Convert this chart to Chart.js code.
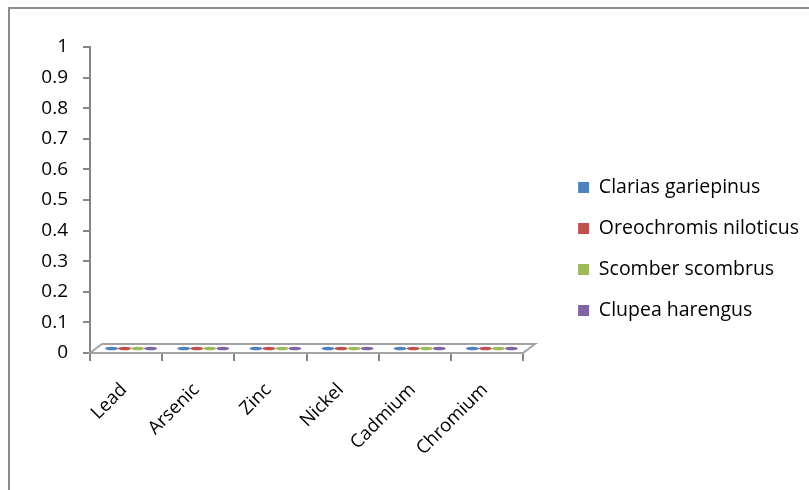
<!DOCTYPE html>
<html>
<head>
<meta charset="utf-8">
<script src="https://cdn.jsdelivr.net/npm/chart.js@4.4.1/dist/chart.umd.min.js"></script>
<style>
  html, body { margin: 0; padding: 0; background: #fff; overflow: hidden; }
  #wrap { position: relative; width: 809px; height: 490px; }
  #frame { position: absolute; left: 8px; top: 7px; width: 900px; height: 600px;
           border: 2px solid #8c8c8c; box-sizing: border-box; }
  #c { position: absolute; left: 0; top: 0; }
</style>
</head>
<body>
<div id="wrap">
  <div id="frame"></div>
  <canvas id="c" width="809" height="490"></canvas>
</div>
<script>
// Heavy metal levels per fish species
const metals = ['Lead', 'Arsenic', 'Zinc', 'Nickel', 'Cadmium', 'Chromium'];
const clariasGariepinus    = [0, 0, 0, 0, 0, 0];
const oreochromisNiloticus = [0, 0, 0, 0, 0, 0];
const scomberScombrus      = [0, 0, 0, 0, 0, 0];
const clupeaHarengus       = [0, 0, 0, 0, 0, 0];
const yTickLabels = ['0', '0.1', '0.2', '0.3', '0.4', '0.5', '0.6', '0.7', '0.8', '0.9', '1'];

const FONT = 'Open Sans';
const AXIS_GREY = '#868686';
const DEPTH_X = 12, DEPTH_Y = 9;   // oblique depth of the 3-D floor
const PLOT_RIGHT = 523;

// legend sizing: keep the swatches in a fixed column
const legendFont = { family: FONT, size: 19.5 };
const legendPad = 21.5, legendBox = 11;
const names = ['Clarias gariepinus', 'Oreochromis niloticus', 'Scomber scombrus', 'Clupea harengus'];
const legendLeft = 580 - legendPad;
const mctx = document.createElement('canvas').getContext('2d');
mctx.font = legendFont.size + 'px "' + FONT + '"';
const widest = Math.max(...names.map(n => mctx.measureText(n).width));
const legendNatural = legendPad + legendBox + legendFont.size / 2 + widest + 10;
const padRight = Math.max(0, 809 - legendLeft - legendNatural);

// 3-D floor drawn under the bars
const floorPlugin = {
  id: 'floor',
  beforeDatasetsDraw(chart) {
    const { ctx } = chart;
    const xs = chart.scales.x, ys = chart.scales.y;
    const L = xs.left, R = xs.right, B = ys.getPixelForValue(0);
    ctx.save();
    ctx.beginPath();
    ctx.moveTo(L, B);
    ctx.lineTo(R, B);
    ctx.lineTo(R + DEPTH_X, B - DEPTH_Y);
    ctx.lineTo(L + DEPTH_X, B - DEPTH_Y);
    ctx.closePath();
    ctx.fillStyle = '#ffffff';
    ctx.fill();
    ctx.lineWidth = 2;
    ctx.strokeStyle = '#a3a3a3';
    ctx.stroke();
    ctx.restore();
  }
};

// top faces of the 3-D columns
const columnTopPlugin = {
  id: 'columnTops',
  afterDatasetsDraw(chart) {
    const { ctx } = chart;
    ctx.save();
    chart.data.datasets.forEach((ds, i) => {
      const meta = chart.getDatasetMeta(i);
      if (meta.hidden) return;
      meta.data.forEach(bar => {
        ctx.beginPath();
        ctx.ellipse(bar.x + DEPTH_X / 2 - 1, bar.y - DEPTH_Y / 2, bar.width / 2, 1.7, 0, 0, Math.PI * 2);
        ctx.fillStyle = ds.backgroundColor;
        ctx.fill();
      });
    });
    ctx.restore();
  }
};

const mk = (label, data, color) => ({
  label, data, backgroundColor: color, borderColor: color, borderWidth: 0,
  categoryPercentage: 0.72, barPercentage: 1.0
});

new Chart(document.getElementById('c'), {
  type: 'bar',
  data: {
    labels: metals,
    datasets: [
      mk(names[0], clariasGariepinus, '#4F81BD'),
      mk(names[1], oreochromisNiloticus, '#C0504D'),
      mk(names[2], scomberScombrus, '#9BBB59'),
      mk(names[3], clupeaHarengus, '#8064A2')
    ]
  },
  options: {
    responsive: false,
    animation: false,
    devicePixelRatio: 1,
    layout: { padding: { top: 8, left: 0, right: padRight, bottom: 0 } },
    plugins: {
      tooltip: { enabled: false },
      legend: {
        position: 'right',
        maxWidth: 400,
        labels: {
          font: legendFont, color: '#000', boxWidth: legendBox, boxHeight: legendBox,
          padding: legendPad
        }
      }
    },
    scales: {
      x: {
        grid: { display: true, drawOnChartArea: false, drawTicks: true, tickLength: 8,
                color: AXIS_GREY, lineWidth: 2, offset: true },
        border: { display: false },
        ticks: { font: { family: FONT, size: 18.5 }, color: '#000', minRotation: 45, maxRotation: 45,
                 autoSkip: false, padding: 18, labelOffset: -2 },
        afterFit(s) { s.height = 137; }
      },
      y: {
        min: 0, max: 1,
        grid: { display: true, drawOnChartArea: false, drawTicks: true, tickLength: 7,
                color: AXIS_GREY, lineWidth: 2 },
        border: { display: true, color: AXIS_GREY, width: 2 },
        ticks: { stepSize: 0.1, font: { family: FONT, size: 19 }, color: '#000', padding: 15,
                 callback: (v, i) => yTickLabels[i] },
        afterFit(s) { s.width = 90; s.paddingTop = 47; }
      },
      gap: {
        type: 'linear', position: 'right', display: true,
        grid: { display: false }, border: { display: false }, ticks: { display: false },
        // fill the space between the plot and the legend
        afterFit(s) {
          const lw = s.chart.legend ? s.chart.legend.width : 0;
          s.width = Math.max(0, 809 - padRight - lw - PLOT_RIGHT);
        }
      }
    }
  },
  plugins: [floorPlugin, columnTopPlugin]
});
</script>
</body>
</html>
